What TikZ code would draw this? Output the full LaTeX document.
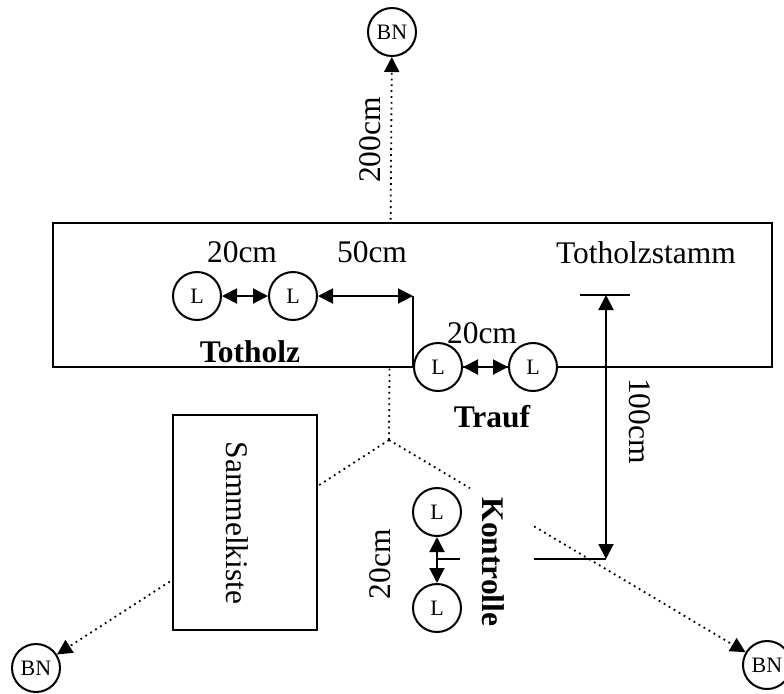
\documentclass[tikz,border=0pt]{standalone}
\usepackage{fontspec}
\setmainfont{Liberation Serif}
\usetikzlibrary{arrows.meta,calc}
\begin{document}
\begin{tikzpicture}[x=0.5pt,y=-0.5pt,line width=1pt,
  tipend/.style={-{Triangle[length=7.5pt,width=7.5pt]}},
  dimboth/.style={{Triangle[length=7.5pt,width=7.5pt]}-{Triangle[length=7.5pt,width=7.5pt]}},
  dots/.style={dotted,line width=0.9pt},
  circ/.style={circle,draw,fill=white,minimum size=24pt,inner sep=0pt,font=\fontsize{11}{13}\selectfont},
  lbl/.style={inner sep=0pt,font=\fontsize{15.75}{18}\selectfont},
  blbl/.style={inner sep=0pt,font=\fontsize{15.75}{18}\selectfont\bfseries}]
\useasboundingbox (0,0) rectangle (784,693);

% BN nodes
\node[circ] (BNt) at (392,32) {BN};
\node[circ] (BNl) at (36,668) {BN};
\node[circ] (BNr) at (767,665) {BN};
\coordinate (J) at (389,440);

% dotted connectors
\draw[dots,tipend] (J) -- (BNt);
\draw[dots,tipend] (J) -- (BNl);
\draw[dots] (J) -- ($(J)!0.214!(BNr)$);
\draw[dots,tipend] ($(J)!0.384!(BNr)$) -- (BNr);

% main box
\node[draw,fill=white,minimum width=359.5pt,minimum height=72pt,inner sep=0pt] (box) at (412.5,295) {};
% Sammelkiste box
\node[draw,fill=white,minimum width=72pt,minimum height=107.5pt,inner sep=0pt] (kiste) at (245,522.5) {};
\node[lbl,rotate=-90] (kistetxt) at (237,523) {Sammelkiste};

% L circles
\node[circ] (La) at (197,296) {L};
\node[circ] (Lb) at (293,296) {L};
\node[circ] (Lc) at (438,367) {L};
\node[circ] (Ld) at (533,367) {L};
\node[circ] (Le) at (437,512) {L};
\node[circ] (Lf) at (437,608) {L};

% arrows between circles
\coordinate (P) at (Lc.west |- Lb);
\draw[dimboth] (La) -- (Lb);
\draw[dimboth] (Lb) -- (P);
\draw (P) -- (Lc.west);
\draw[dimboth] (Lc) -- (Ld);
\draw[dimboth] (Le) -- (Lf);

% Kontrolle tick
\coordinate (K1) at (437,559);
\coordinate (K2) at (460,559);
\draw (K1) -- (K2);

% 100cm dimension
\coordinate (T1) at (580,295);
\coordinate (T2) at (630,295);
\coordinate (Dt) at (606,295);
\coordinate (Db) at (606,559);
\coordinate (B1) at (534,559);
\draw (T1) -- (T2);
\draw (B1) -- (Db);
\draw[dimboth] (Dt) -- (Db);

% labels
\node[lbl,rotate=90] (t200) at (370,140) {200cm};
\node[lbl] (t20a) at (242,252) {20cm};
\node[lbl] (t50) at (372,252) {50cm};
\node[lbl] (tstamm) at (646,253) {Totholzstamm};
\node[blbl] (ttot) at (250,352) {Totholz};
\node[lbl] (t20b) at (482,333) {20cm};
\node[blbl] (ttrauf) at (492,417) {Trauf};
\node[lbl,rotate=-90] (t100) at (640,421) {100cm};
\node[lbl,rotate=90] (t20c) at (380,564) {20cm};
\node[blbl,rotate=-90] (tkontr) at (493,562) {Kontrolle};
\end{tikzpicture}
\end{document}
